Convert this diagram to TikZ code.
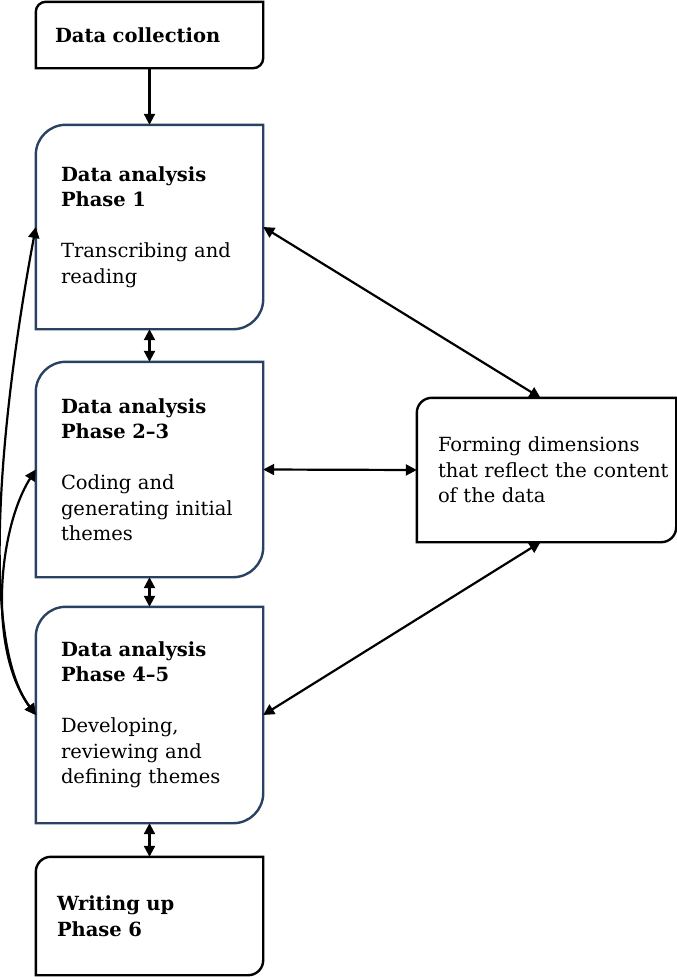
\documentclass[tikz,border=0pt]{standalone}
\usepackage{fontspec}
\setmainfont{DejaVu Serif}
\usetikzlibrary{arrows.meta,calc}
\definecolor{boxblue}{HTML}{2A4262}
\newcommand{\tlbrbox}[3]{\draw[#3] (#1.south west) -- ([yshift=-#2]#1.north west) arc[start angle=180,end angle=90,radius=#2] -- (#1.north east) -- ([yshift=#2]#1.south east) arc[start angle=0,end angle=-90,radius=#2] -- cycle;}
\tikzset{
  txt/.style={inner xsep=0pt, inner ysep=0pt, anchor=center, align=left, font=\fontsize{19.5}{25.5}\selectfont, minimum width=227pt, text width=177pt},
  tipA/.tip={Triangle[length=11pt,width=11pt]},
  conn/.style={line width=2.2pt, -tipA},
  dconn/.style={line width=2.2pt, tipA-tipA},
  blueline/.style={line width=2.4pt, draw=boxblue},
  blackline/.style={line width=2.4pt, draw=black}
}
\begin{document}
\begin{tikzpicture}[x=1pt,y=1pt]
\useasboundingbox (0,0) rectangle (677,-977);
\node[txt, minimum height=66pt, text width=189pt] (dc) at (149.5,-35) {\textbf{Data collection}};
\node[txt, minimum height=204pt] (p1) at (149.5,-227) {\textbf{Data analysis}\\\textbf{Phase 1}\\[25.5pt]Transcribing and\\reading};
\node[txt, minimum height=215pt] (p23) at (149.5,-469.5) {\textbf{Data analysis}\\\textbf{Phase 2–3}\\[25.5pt]Coding and\\generating initial\\themes};
\node[txt, minimum height=216pt] (p45) at (149.5,-715) {\textbf{Data analysis}\\\textbf{Phase 4–5}\\[25.5pt]Developing,\\reviewing and\\defining themes};
\node[txt, minimum height=118pt, text width=185pt] (wu) at (149.5,-916) {\textbf{Writing up}\\\textbf{Phase 6}};
\node[txt, minimum width=259pt, minimum height=144pt, text width=217pt] (fd) at (546.5,-470) {Forming dimensions\\\mbox{that reflect the content}\\of the data};
\tlbrbox{dc}{10pt}{blackline}
\tlbrbox{p1}{30pt}{blueline}
\tlbrbox{p23}{30pt}{blueline}
\tlbrbox{p45}{30pt}{blueline}
\tlbrbox{wu}{15pt}{blackline}
\tlbrbox{fd}{15pt}{blackline}
\draw[conn] (dc.south) -- (p1.north);
\draw[dconn] (p1.south) -- (p23.north);
\draw[dconn] (p23.south) -- (p45.north);
\draw[dconn] (p45.south) -- (wu.north);
\draw[dconn] (p1.east) -- ([xshift=-6pt]fd.north);
\draw[dconn] (p23.east) -- (fd.west);
\draw[dconn] (p45.east) -- ([xshift=-6pt]fd.south);
\draw[dconn] (p1.west) .. controls +(-36,-193) and +(-56,75) .. (p45.west);
\draw[dconn] (p23.west) .. controls +(-38,-60) and +(-48,65) .. (p45.west);
\end{tikzpicture}
\end{document}
